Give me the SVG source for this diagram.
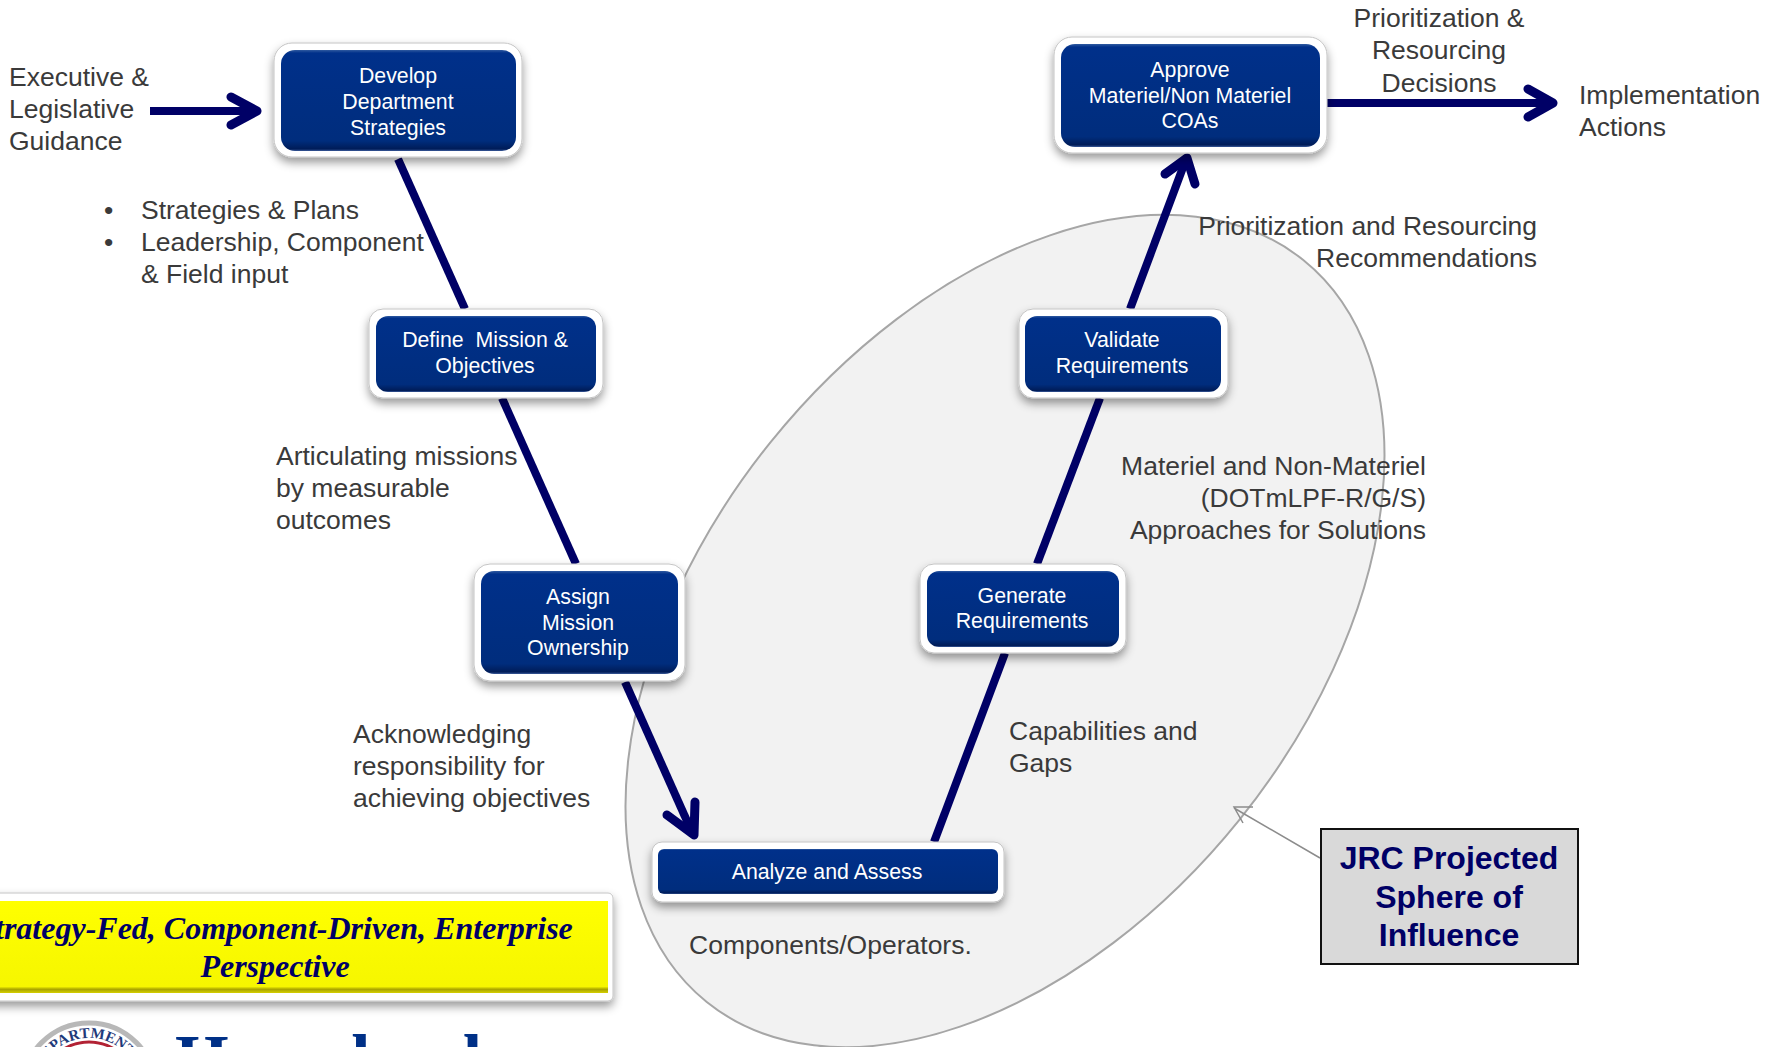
<svg xmlns="http://www.w3.org/2000/svg" width="1781" height="1047" viewBox="0 0 1781 1047">
<style>
text{font-family:"Liberation Sans",Arial,sans-serif}
.l{font-size:26.5px;fill:#3a3a3a}
.e{text-anchor:end}
.c{text-anchor:middle}
.n{font-size:21.3px;fill:#fff;text-anchor:middle}
.o{fill:#fff;stroke:#c4c4c4;stroke-width:1;filter:url(#sh)}
.i{fill:url(#blue)}
.cn{stroke:#000066;stroke-width:8;fill:none;stroke-linejoin:round}
.ar{stroke-linecap:round;stroke-width:9}
.b{font-family:"Liberation Serif","Times New Roman",serif;font-weight:bold;font-style:italic;font-size:32px;fill:#000066;text-anchor:middle}
.j{font-size:32px;font-weight:bold;fill:#000066;text-anchor:middle}
</style>
<defs>
<linearGradient id="blue" x1="0" y1="0" x2="0" y2="1">
<stop offset="0" stop-color="#2f5aa0"/><stop offset="0.03" stop-color="#00308a"/><stop offset="0.9" stop-color="#002d7d"/><stop offset="0.98" stop-color="#001c58"/><stop offset="1" stop-color="#3a5a9a"/>
</linearGradient>
<linearGradient id="yel" x1="0" y1="0" x2="0" y2="1">
<stop offset="0" stop-color="#ffff00"/><stop offset="0.93" stop-color="#f6f600"/><stop offset="0.96" stop-color="#a8a300"/><stop offset="1" stop-color="#d6d000"/>
</linearGradient>
<filter id="sh" x="-10%" y="-15%" width="120%" height="140%">
<feDropShadow dx="0" dy="5" stdDeviation="5" flood-color="#000" flood-opacity="0.4"/>
</filter>
<path id="arc" d="M37 1090A52 52 0 0 1 141 1090"/>
</defs>

<ellipse id="sphere" cx="1005" cy="631" rx="476" ry="301" transform="rotate(-51.2 1005 631)" fill="#f2f2f2" stroke="#a6a6a6" stroke-width="2"/>

<g id="connectors">
<path class="cn" d="M398 159L465 309"/>
<path class="cn" d="M502 398L576 564"/>
<path class="cn" d="M625 682L691 830"/>
<path class="cn ar" d="M667 815L694 835L695 802"/>
<path class="cn" d="M934 842L1005 653"/>
<path class="cn" d="M1037 564L1100 398"/>
<path class="cn" d="M1130 309L1185 162"/>
<path class="cn ar" d="M1165 174L1187 158L1195 184"/>
<path class="cn" d="M150 111L254 111"/>
<path class="cn ar" d="M231 97L257 111L231 125"/>
<path class="cn" d="M1327 103L1550 103"/>
<path class="cn ar" d="M1528 89L1553 103L1528 117"/>
<path d="M1320 858L1234 808M1253 807L1234 807L1243 823" fill="none" stroke="#8c8c8c" stroke-width="1.5"/>
</g>

<g id="develop"><rect class="o" x="274" y="43" width="248" height="114" rx="18"/><rect class="i" x="281" y="50" width="235" height="101" rx="14"/>
<text class="n" x="398" y="83">Develop</text><text class="n" x="398" y="109">Department</text><text class="n" x="398" y="135">Strategies</text></g>
<g id="define"><rect class="o" x="369" y="309" width="234" height="89" rx="14"/><rect class="i" x="376" y="316" width="220" height="76" rx="12"/>
<text class="n" x="485" y="347" xml:space="preserve">Define  Mission &amp;</text><text class="n" x="485" y="373">Objectives</text></g>
<g id="assign"><rect class="o" x="474" y="564" width="211" height="117" rx="16"/><rect class="i" x="481" y="571" width="197" height="103" rx="13"/>
<text class="n" x="578" y="604">Assign</text><text class="n" x="578" y="630">Mission</text><text class="n" x="578" y="655">Ownership</text></g>
<g id="analyze"><rect class="o" x="652" y="842" width="352" height="60" rx="10"/><rect class="i" x="658" y="849" width="340" height="45" rx="6"/>
<text class="n" x="827" y="879">Analyze and Assess</text></g>
<g id="generate"><rect class="o" x="920" y="564" width="206" height="89" rx="14"/><rect class="i" x="927" y="571" width="192" height="76" rx="12"/>
<text class="n" x="1022" y="603">Generate</text><text class="n" x="1022" y="628">Requirements</text></g>
<g id="validate"><rect class="o" x="1019" y="309" width="209" height="89" rx="14"/><rect class="i" x="1025" y="316" width="196" height="76" rx="12"/>
<text class="n" x="1122" y="347">Validate</text><text class="n" x="1122" y="373">Requirements</text></g>
<g id="approve"><rect class="o" x="1054" y="37" width="273" height="116" rx="18"/><rect class="i" x="1061" y="44" width="259" height="103" rx="14"/>
<text class="n" x="1190" y="77">Approve</text><text class="n" x="1190" y="103">Materiel/Non Materiel</text><text class="n" x="1190" y="128">COAs</text></g>

<g id="labels">
<text class="l" x="9" y="86">Executive &amp;</text><text class="l" x="9" y="118">Legislative</text><text class="l" x="9" y="150">Guidance</text>
<text class="l" x="104" y="219">•</text><text class="l" x="141" y="219">Strategies &amp; Plans</text>
<text class="l" x="104" y="251">•</text><text class="l" x="141" y="251">Leadership, Component</text><text class="l" x="141" y="283">&amp; Field input</text>
<text class="l" x="276" y="465">Articulating missions</text><text class="l" x="276" y="497">by measurable</text><text class="l" x="276" y="529">outcomes</text>
<text class="l" x="353" y="743">Acknowledging</text><text class="l" x="353" y="775">responsibility for</text><text class="l" x="353" y="807">achieving objectives</text>
<text class="l" x="689" y="954">Components/Operators.</text>
<text class="l" x="1009" y="740">Capabilities and</text><text class="l" x="1009" y="772">Gaps</text>
<text class="l e" x="1426" y="475">Materiel and Non-Materiel</text><text class="l e" x="1426" y="507">(DOTmLPF-R/G/S)</text><text class="l e" x="1426" y="539">Approaches for Solutions</text>
<text class="l e" x="1537" y="235">Prioritization and Resourcing</text><text class="l e" x="1537" y="267">Recommendations</text>
<text class="l c" x="1439" y="27">Prioritization &amp;</text><text class="l c" x="1439" y="59">Resourcing</text><text class="l c" x="1439" y="92">Decisions</text>
<text class="l" x="1579" y="104">Implementation</text><text class="l" x="1579" y="136">Actions</text>
</g>

<g id="jrc-callout"><rect x="1321" y="829" width="257" height="135" fill="#d9d9d9" stroke="#111" stroke-width="2"/>
<text class="j" x="1449" y="869">JRC Projected</text><text class="j" x="1449" y="908">Sphere of</text><text class="j" x="1449" y="946">Influence</text></g>

<g id="banner"><rect x="-70" y="893" width="683" height="108" rx="5" fill="#fff" stroke="#c4c4c4" filter="url(#sh)"/><rect x="-58" y="901" width="666" height="92" fill="url(#yel)"/>
<text class="b" x="275" y="939">Strategy-Fed, Component-Driven, Enterprise</text><text class="b" x="275" y="977">Perspective</text></g>

<g id="logo"><circle cx="89" cy="1090" r="67" fill="#fff" stroke="#b8b8b8" stroke-width="5"/><circle cx="89" cy="1090" r="48" fill="#fff" stroke="#b22234" stroke-width="3"/>
<text font-size="15" font-weight="bold" fill="#1f3a7a" text-anchor="middle" style="font-family:'Liberation Serif',serif"><textPath href="#arc" startOffset="46%">DEPARTMENT</textPath></text>
<text x="175" y="1083" font-size="69" font-weight="bold" fill="#003087" style="font-family:'Liberation Serif',serif">Homeland</text></g>
</svg>
